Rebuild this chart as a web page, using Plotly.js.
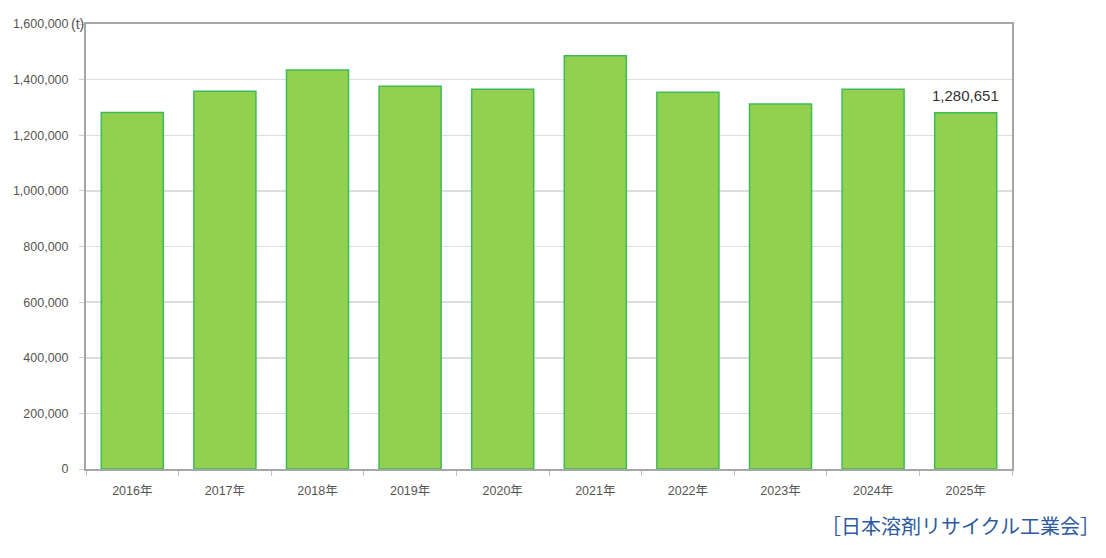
<!DOCTYPE html>
<html>
<head>
<meta charset="utf-8">
<script src="https://cdn.plot.ly/plotly-3.0.1.min.js"></script>
<style>html,body{margin:0;padding:0;background:#fff;}#chart{width:1106px;height:558px;}</style>
</head>
<body>
<div id="chart"></div>
<script>
const years = ["2016年","2017年","2018年","2019年","2020年","2021年","2022年","2023年","2024年","2025年"];
const volumes = [1282000,1358000,1434700,1376100,1365400,1486100,1354600,1312600,1365400,1280651];
const yTickVals = [0,200000,400000,600000,800000,1000000,1200000,1400000,1600000];
const yTickText = ["0","200,000","400,000","600,000","800,000","1,000,000","1,200,000","1,400,000","1,600,000"];
const unitLabel = "(t)";
const lastLabel = "1,280,651";
const sourceLabel = "［日本溶剤リサイクル工業会］";

const font = "'Liberation Sans', 'Noto Sans CJK JP', sans-serif";

const trace = {
  type: "bar",
  x: years,
  y: volumes,
  marker: {color: "#92d050", line: {color: "#3dbb55", width: 1.5}},
  hoverinfo: "x+y"
};

const layout = {
  width: 1106, height: 558,
  margin: {l: 86, r: 94, t: 24, b: 89},
  paper_bgcolor: "#ffffff",
  plot_bgcolor: "#ffffff",
  bargap: 0.33,
  showlegend: false,
  font: {family: font, color: "#555", size: 12},
  xaxis: {
    type: "category",
    showgrid: false,
    showline: true, linecolor: "#a6a6a6", linewidth: 2, mirror: true,
    ticks: "outside", tickson: "boundaries", ticklen: 5, tickcolor: "#bfbfbf",
    tickfont: {family: font, size: 12.5, color: "#555"},
    ticklabelstandoff: 9
  },
  yaxis: {
    range: [0, 1600000],
    tickvals: yTickVals, ticktext: yTickText,
    showgrid: true, gridcolor: "#dddddd", gridwidth: 1.5,
    zeroline: false,
    showline: true, linecolor: "#a6a6a6", linewidth: 2, mirror: true,
    ticks: "outside", ticklen: 5, tickcolor: "#d0d0d0",
    tickfont: {family: font, size: 12.5, color: "#555"},
    ticklabelstandoff: 8
  },
  annotations: [
    {xref: "paper", yref: "y", x: 0, y: 1600000, text: unitLabel, showarrow: false,
     xanchor: "right", yanchor: "middle", xshift: 0, font: {family: font, size: 14, color: "#555"}},
    {xref: "x", yref: "y", x: years[years.length-1], y: volumes[volumes.length-1], text: lastLabel,
     showarrow: false, xanchor: "center", yanchor: "bottom", yshift: 7,
     font: {family: font, size: 15, color: "#333"}},
    {xref: "paper", yref: "paper", x: 1.0975, y: -0.128, text: sourceLabel, showarrow: false,
     xanchor: "right", yanchor: "middle", font: {family: "'Noto Sans CJK JP', sans-serif", size: 20, color: "#2f5b9e"}}
  ]
};

Plotly.newPlot("chart", [trace], layout, {displayModeBar: false, staticPlot: true});
</script>
</body>
</html>
